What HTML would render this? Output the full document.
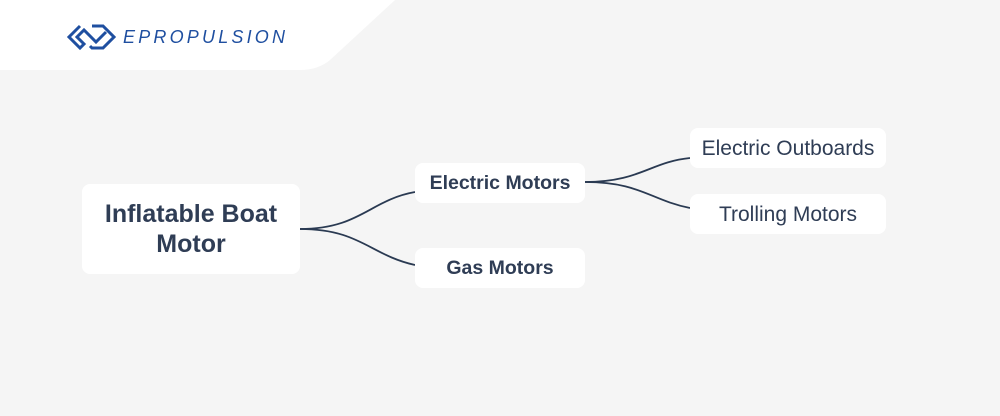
<!DOCTYPE html>
<html><head><style>
body{margin:0;width:1000px;height:416px;background:#f5f5f5;position:relative;overflow:hidden;font-family:"Liberation Sans",sans-serif;}
.n{position:absolute;background:#fff;border-radius:8px;display:flex;align-items:center;justify-content:center;text-align:center;color:#2f3d55;}
.b{font-weight:bold;}
</style></head><body>
<svg width="1000" height="416" style="position:absolute;left:0;top:0">
<path d="M0 0 H395 L330 60 Q318 70 300 70 H0 Z" fill="#fff"/>
<g fill="none" stroke="#1f4fa0" stroke-width="3">
<path d="M80 26 L69 37 L80 48 L84 44 L77 37 L84 30 L96 42 L106 32"/>
<path d="M92 26 L103 26 L114 37 L103 48 L92 48 L90 46"/>
</g>
<text x="123" y="43" font-family="Liberation Sans" font-style="italic" font-size="18" fill="#1f4fa0" textLength="162" lengthAdjust="spacing">EPROPULSION</text>
<g fill="none" stroke="#2a3a52" stroke-width="1.8">
<path d="M300 229 C360 229 370 200 415 192"/>
<path d="M300 229 C360 229 370 255 415 265"/>
<path d="M585 182 C640 182 650 162 690 158"/>
<path d="M585 182 C640 182 650 200 690 208"/>
</g>
</svg>
<div class="n b" style="left:82px;top:184px;width:218px;height:90px;font-size:25px;line-height:30px">Inflatable Boat<br>Motor</div>
<div class="n b" style="left:415px;top:163px;width:170px;height:40px;font-size:19.5px">Electric Motors</div>
<div class="n b" style="left:415px;top:248px;width:170px;height:40px;font-size:19.5px">Gas Motors</div>
<div class="n" style="left:690px;top:128px;width:196px;height:40px;font-size:21px;padding-top:2px;box-sizing:border-box">Electric Outboards</div>
<div class="n" style="left:690px;top:194px;width:196px;height:40px;font-size:21px;padding-top:2px;box-sizing:border-box">Trolling Motors</div>
</body></html>
